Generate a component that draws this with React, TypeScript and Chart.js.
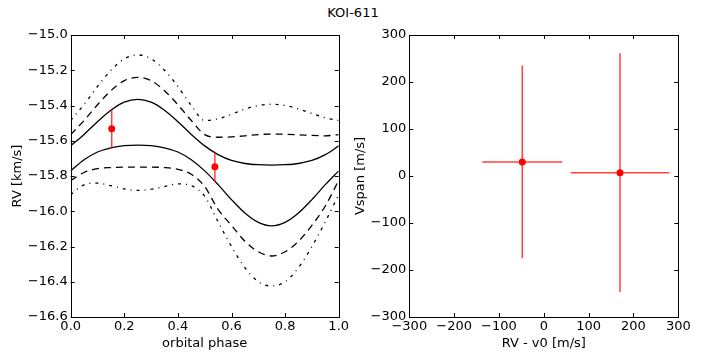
import React, { useEffect, useRef } from 'react';
import { Chart, registerables } from 'chart.js';
Chart.register(...registerables);

// ---- data ----
const phase = [0, 0.05, 0.1, 0.15, 0.2, 0.25, 0.3, 0.35, 0.4, 0.45, 0.5, 0.55, 0.6, 0.65, 0.7, 0.75, 0.8, 0.85, 0.9, 0.95, 1.0];
const rvSolidUpper = [-15.629, -15.564, -15.492, -15.427, -15.381, -15.365, -15.381, -15.427, -15.492, -15.564, -15.629, -15.679, -15.712, -15.729, -15.736, -15.738, -15.736, -15.729, -15.712, -15.679, -15.629];
const rvSolidLower = [-15.771, -15.708, -15.664, -15.640, -15.628, -15.625, -15.628, -15.640, -15.664, -15.708, -15.771, -15.849, -15.934, -16.010, -16.063, -16.083, -16.063, -16.010, -15.934, -15.849, -15.771];
const rvDashUpper = [-15.565, -15.485, -15.396, -15.316, -15.259, -15.240, -15.259, -15.316, -15.396, -15.485, -15.565, -15.580, -15.578, -15.572, -15.565, -15.562, -15.563, -15.566, -15.570, -15.572, -15.565];
const rvDashLower = [-15.825, -15.780, -15.758, -15.752, -15.750, -15.750, -15.750, -15.752, -15.762, -15.790, -15.860, -15.990, -16.080, -16.170, -16.230, -16.254, -16.230, -16.170, -16.080, -15.970, -15.825];
const rvDotUpper = [-15.485, -15.394, -15.292, -15.200, -15.135, -15.113, -15.135, -15.200, -15.292, -15.400, -15.485, -15.475, -15.450, -15.420, -15.400, -15.393, -15.400, -15.420, -15.445, -15.470, -15.485];
const rvDotLower = [-15.905, -15.850, -15.840, -15.855, -15.873, -15.882, -15.875, -15.860, -15.845, -15.855, -15.915, -16.060, -16.200, -16.320, -16.400, -16.424, -16.400, -16.320, -16.200, -16.060, -15.905];

const obsPhase = [0.153, 0.538];
const obsRV = [-15.532, -15.747];
const obsRVErr = [0.107, 0.085];

const dRV = [-48, 170];
const dRVErr = [89, 110];
const vspan = [30, 7];
const vspanErr = [205, 254];

const leftXTicks = { min: 0, max: 1, step: 0.2 };
const leftYTicks = { min: -16.6, max: -15.0, step: 0.2 };
const rightTicks = { min: -300, max: 300, step: 100 };

// ---- styling ----
const FONT = { family: 'DejaVu Sans', size: 13 };
const ERR_COLOR = 'rgba(255,0,0,0.75)';
const minus = (s: string) => s.replace('-', '\u2212');

const frameTicks = {
  id: 'frameTicks',
  afterDraw(chart: any) {
    const { ctx, chartArea, scales } = chart;
    const { left, right, top, bottom } = chartArea;
    const L = 4;
    ctx.save();
    ctx.strokeStyle = '#000';
    ctx.lineWidth = 1;
    ctx.beginPath();
    scales.x.ticks.forEach((t: any) => {
      const p = Math.round(scales.x.getPixelForValue(t.value)) + 0.5;
      ctx.moveTo(p, bottom); ctx.lineTo(p, bottom - L);
      ctx.moveTo(p, top); ctx.lineTo(p, top + L);
    });
    scales.y.ticks.forEach((t: any) => {
      const p = Math.round(scales.y.getPixelForValue(t.value)) + 0.5;
      ctx.moveTo(left, p); ctx.lineTo(left + L, p);
      ctx.moveTo(right, p); ctx.lineTo(right - L, p);
    });
    ctx.stroke();
    ctx.strokeRect(Math.round(left) + 0.5, Math.round(top) + 0.5, Math.round(right - left), Math.round(bottom - top));
    ctx.restore();
  },
};

function curve(ys: number[], dash: number[]) {
  return {
    type: 'line',
    data: phase.map((x, i) => ({ x, y: ys[i] })),
    borderColor: '#000',
    borderWidth: 1.3,
    borderDash: dash,
    pointRadius: 0,
    fill: false,
    cubicInterpolationMode: 'monotone',
  };
}

function segment(x0: number, y0: number, x1: number, y1: number) {
  return {
    type: 'line',
    data: [{ x: x0, y: y0 }, { x: x1, y: y1 }],
    borderColor: ERR_COLOR,
    borderWidth: 1.5,
    pointRadius: 0,
    fill: false,
  };
}

function pointsDs(xs: number[], ys: number[]) {
  return {
    type: 'line',
    data: xs.map((x, i) => ({ x, y: ys[i] })),
    showLine: false,
    pointRadius: 3.5,
    pointBackgroundColor: '#ff0000',
    pointBorderColor: '#ff0000',
    borderWidth: 0,
  };
}

function axis(range: any, fmt: (v: number) => string, title: string, isY: boolean, size: number, titlePad: any) {
  return {
    type: 'linear',
    min: range.min,
    max: range.max,
    ticks: {
      stepSize: range.step,
      callback: (v: any) => fmt(Number(v)),
      color: '#000',
      font: FONT,
      padding: isY ? 3 : 2,
      maxRotation: 0,
      autoSkip: false,
    },
    grid: { display: false, drawTicks: false, tickLength: 0 },
    border: { display: false },
    title: { display: true, text: title, color: '#000', font: FONT, padding: titlePad },
    afterFit: (s: any) => {
      if (isY) s.width = size; else s.height = size;
    },
  };
}

function makeLeft(canvas: HTMLCanvasElement) {
  const datasets: any[] = [pointsDs(obsPhase, obsRV)];
  obsPhase.forEach((p, i) => datasets.push(segment(p, obsRV[i] - obsRVErr[i], p, obsRV[i] + obsRVErr[i])));
  datasets.push(curve(rvSolidUpper, []));
  datasets.push(curve(rvSolidLower, []));
  datasets.push(curve(rvDashUpper, [7, 5]));
  datasets.push(curve(rvDashLower, [7, 5]));
  datasets.push(curve(rvDotUpper, [3, 5, 1, 5]));
  datasets.push(curve(rvDotLower, [3, 5, 1, 5]));
  return new Chart(canvas, {
    type: 'line',
    data: { datasets },
    plugins: [frameTicks],
    options: {
      responsive: false,
      animation: false,
      events: [],
      layout: { padding: { top: 35, right: 14.3, bottom: 0, left: 0 } },
      plugins: { legend: { display: false }, tooltip: { enabled: false } },
      scales: {
        x: axis(leftXTicks, (v) => minus(v.toFixed(1)), 'orbital phase', false, 36, { top: 0, bottom: 2 }),
        y: axis(leftYTicks, (v) => minus(v.toFixed(1)), 'RV [km/s]', true, 70.7, { top: 10, bottom: 0 }),
      },
    } as any,
  } as any);
}

function makeRight(canvas: HTMLCanvasElement) {
  const datasets: any[] = [pointsDs(dRV, vspan)];
  dRV.forEach((x, i) => {
    datasets.push(segment(x, vspan[i] - vspanErr[i], x, vspan[i] + vspanErr[i]));
    datasets.push(segment(x - dRVErr[i], vspan[i], x + dRVErr[i], vspan[i]));
  });
  return new Chart(canvas, {
    type: 'line',
    data: { datasets },
    plugins: [frameTicks],
    options: {
      responsive: false,
      animation: false,
      events: [],
      layout: { padding: { top: 35, right: 27.7, bottom: 0, left: 0 } },
      plugins: { legend: { display: false }, tooltip: { enabled: false } },
      scales: {
        x: axis(rightTicks, (v) => minus(String(Math.round(v))), 'RV - v0 [m/s]', false, 36, { top: 0, bottom: 2 }),
        y: axis(rightTicks, (v) => minus(String(Math.round(v))), 'Vspan [m/s]', true, 56.3, { top: 0, bottom: 0 }),
      },
    } as any,
  } as any);
}

export default function App() {
  const leftRef = useRef<HTMLCanvasElement>(null);
  const rightRef = useRef<HTMLCanvasElement>(null);
  useEffect(() => {
    const a = makeLeft(leftRef.current!);
    const b = makeRight(rightRef.current!);
    return () => { a.destroy(); b.destroy(); };
  }, []);
  return (
    <div style={{ position: 'fixed', left: 0, top: 0, width: 706, height: 353, background: '#fff', overflow: 'hidden' }}>
      <div style={{ position: 'absolute', left: 0, top: 5, width: 706, textAlign: 'center', fontFamily: 'DejaVu Sans', fontSize: 13, lineHeight: '15px', color: '#000' }}>
        KOI-611
      </div>
      <canvas ref={leftRef} width={353} height={353} style={{ position: 'absolute', left: 0, top: 0 }} />
      <canvas ref={rightRef} width={353} height={353} style={{ position: 'absolute', left: 353, top: 0 }} />
    </div>
  );
}
